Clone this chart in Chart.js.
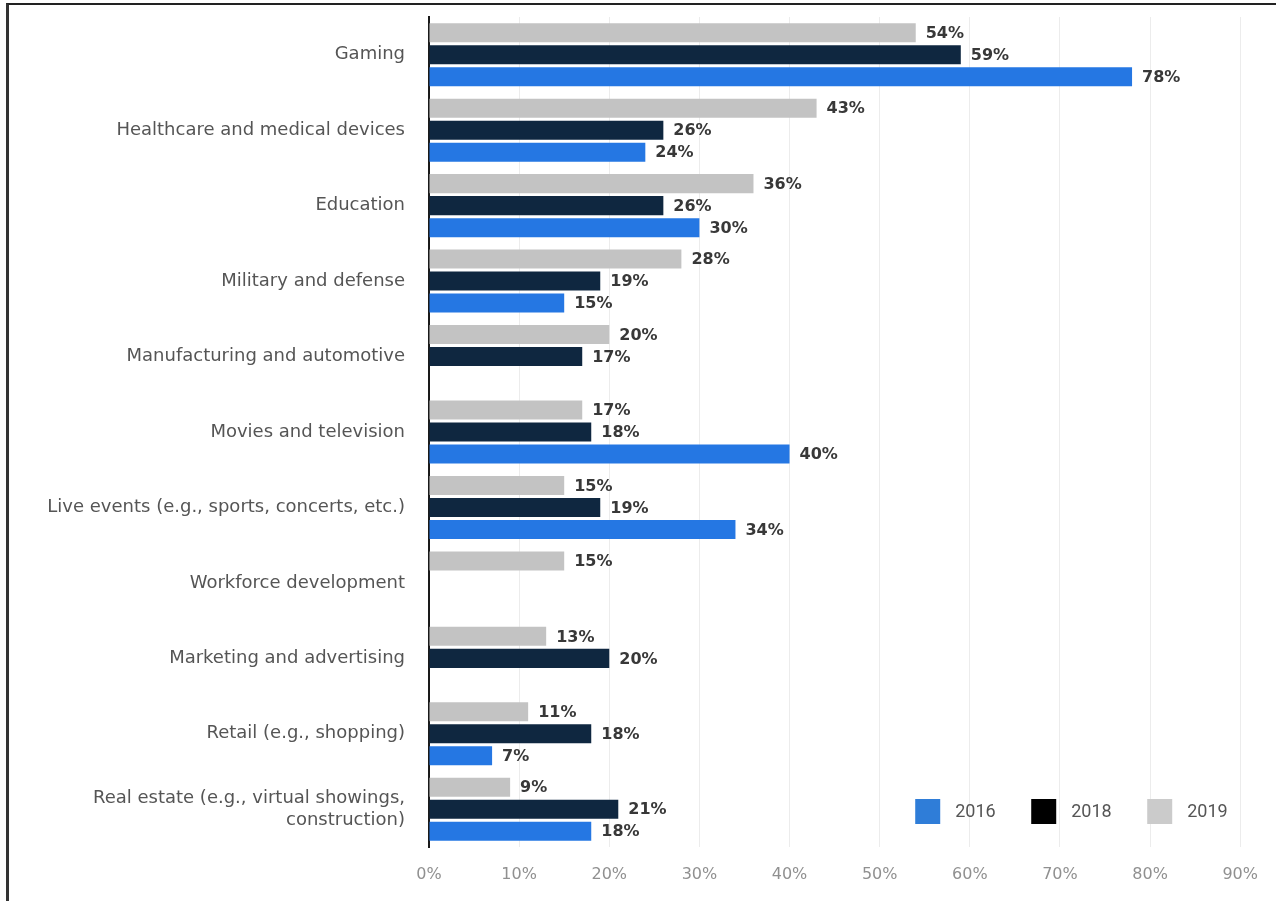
<!DOCTYPE html>
<html>
<head>
<meta charset="utf-8">
<script src="https://cdn.jsdelivr.net/npm/chart.js@4.4.1/dist/chart.umd.min.js"></script>
<style>
  html, body { margin: 0; padding: 0; background: #fff; }
  #moldura {
    position: absolute; left: 6px; top: 3px; width: 1270px; height: 898px;
    border-top: 2px solid #222; border-left: 3px solid #333;
  }
  #grafico-wrap { position: absolute; left: 0; top: 0; width: 1276px; height: 901px; }
</style>
</head>
<body>
<div id="moldura"></div>
<div id="grafico-wrap"><canvas id="grafico"></canvas></div>
<script>
const categorias = [
  'Gaming',
  'Healthcare and medical devices',
  'Education',
  'Military and defense',
  'Manufacturing and automotive',
  'Movies and television',
  'Live events (e.g., sports, concerts, etc.)',
  'Workforce development',
  'Marketing and advertising',
  'Retail (e.g., shopping)',
  ['Real estate (e.g., virtual showings,', 'construction)']
];

// values in percent, null = no bar for that year
const valores2019 = [54, 43, 36, 28, 20, 17, 15, 15, 13, 11, 9];
const valores2018 = [59, 26, 26, 19, 17, 18, 19, null, 20, 18, 21];
const valores2016 = [78, 24, 30, 15, null, 40, 34, null, null, 7, 18];

const ticksX = [0, 10, 20, 30, 40, 50, 60, 70, 80, 90];
const anosLegenda = ['2016', '2018', '2019'];

const corCinza = '#c3c3c3';
const corMarinho = '#0f2740';
const corAzul = '#2577e3';
const coresLegenda = ['#2f7dd8', '#000000', '#cbcbcb'];

// Value labels at the end of each bar
const rotulosValores = {
  id: 'rotulosValores',
  afterDatasetsDraw(chart) {
    const ctx = chart.ctx;
    ctx.save();
    ctx.font = 'bold 16px "DejaVu Sans"';
    ctx.fillStyle = '#383838';
    ctx.textBaseline = 'middle';
    ctx.textAlign = 'left';
    chart.data.datasets.forEach((ds, i) => {
      chart.getDatasetMeta(i).data.forEach((bar, j) => {
        const v = ds.data[j];
        if (v === null || v === undefined) return;
        ctx.fillText(v + '%', bar.x + 10, bar.y + 1);
      });
    });
    ctx.restore();
  }
};

// Legend drawn inside the plot, bottom right
const legendaInterna = {
  id: 'legendaInterna',
  afterDraw(chart) {
    const ctx = chart.ctx;
    const area = chart.chartArea;
    const yCentro = area.bottom - 36;
    ctx.save();
    ctx.font = '18px Roboto';
    ctx.textBaseline = 'middle';
    anosLegenda.forEach((ano, i) => {
      const x = area.right - 325 + i * 116;
      ctx.fillStyle = coresLegenda[i];
      ctx.fillRect(x, yCentro - 12, 25, 25);
      ctx.fillStyle = '#555';
      ctx.fillText(ano, x + 40, yCentro + 1);
    });
    ctx.restore();
  }
};

new Chart(document.getElementById('grafico'), {
  type: 'bar',
  data: {
    labels: categorias,
    datasets: [
      { label: '2019', data: valores2019, backgroundColor: corCinza },
      { label: '2018', data: valores2018, backgroundColor: corMarinho },
      { label: '2016', data: valores2016, backgroundColor: corAzul }
    ]
  },
  options: {
    indexAxis: 'y',
    responsive: true,
    maintainAspectRatio: false,
    animation: false,
    categoryPercentage: 0.875,
    barPercentage: 0.865,
    layout: { padding: { top: 17, right: 33, left: 0, bottom: 0 } },
    plugins: {
      legend: { display: false },
      tooltip: { enabled: false }
    },
    scales: {
      x: {
        min: 0,
        max: 90,
        afterBuildTicks: scale => { scale.ticks = ticksX.map(v => ({ value: v })); },
        afterFit: scale => { scale.height = 54; },
        grid: { color: '#ececec', lineWidth: 1, drawTicks: false },
        border: { display: false },
        ticks: {
          padding: 18,
          color: '#909090',
          font: { family: 'DejaVu Sans', size: 16 },
          callback: v => v + '%'
        }
      },
      y: {
        afterFit: scale => {
          scale.width = 429;
          scale.paddingTop = 0;
          scale.paddingBottom = 0;
        },
        grid: { display: false, drawTicks: false },
        border: { display: true, color: '#1a1a1a', width: 2 },
        ticks: {
          padding: 24,
          color: '#555',
          font: { family: 'DejaVu Sans', size: 18, lineHeight: 1.25 }
        }
      }
    }
  },
  plugins: [rotulosValores, legendaInterna]
});
</script>
</body>
</html>
